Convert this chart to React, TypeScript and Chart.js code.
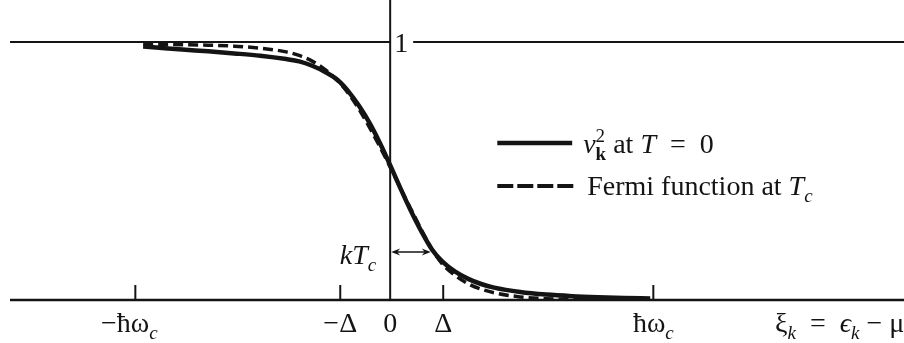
import { useEffect, useRef } from "react";
import { Chart, registerables } from "chart.js";

Chart.register(...registerables);

// ξ measured in units of the gap Δ
const xi = [-4.75, -4.5, -4, -3.5, -3, -2.5, -2, -1.75, -1.5, -1.25, -1, -0.8, -0.6, -0.4, -0.2, 0, 0.2, 0.4, 0.6, 0.8, 1, 1.25, 1.5, 1.75, 2, 2.5, 3, 3.5, 4, 4.5, 5];

// occupation v_k^2 of the BCS ground state (T = 0)
const vk2 = [0.983, 0.979, 0.971, 0.964, 0.956, 0.947, 0.934, 0.925, 0.908, 0.884, 0.851, 0.808, 0.753, 0.688, 0.61, 0.523, 0.432, 0.345, 0.266, 0.197, 0.15, 0.11, 0.082, 0.062, 0.048, 0.031, 0.021, 0.015, 0.011, 0.008, 0.006];

// Fermi function at the critical temperature
const fermi = [0.992, 0.991, 0.99, 0.988, 0.984, 0.976, 0.962, 0.948, 0.926, 0.893, 0.848, 0.8, 0.74, 0.67, 0.595, 0.515, 0.432, 0.352, 0.272, 0.198, 0.14, 0.095, 0.063, 0.042, 0.028, 0.012, 0.005, 0.002, 0.001, 0.001, 0];

// positions of the marked energies on the ξ axis
const tickPositions = [-4.9, -0.96, 0, 1.02, 5.06];

// the kT_c arrow: runs from ξ = 0 to the curve at this height
const kTcLevel = 0.186;
const kTcEnd = 0.78;

const X_MIN = -7.31;
const X_MAX = 9.88;
const Y_MAX = 1.163;

const INK = "#141414";
const SERIF = '"Liberation Serif", "DejaVu Serif", serif';

type Seg = {
  t: string;
  it?: boolean;
  bold?: boolean;
  sub?: boolean;
  sup?: boolean;
  hold?: boolean; // do not advance the pen after this piece
};

const tickLabels: Seg[][] = [
  [{ t: "−ħω" }, { t: "c", it: true, sub: true }],
  [{ t: "−Δ" }],
  [{ t: "0" }],
  [{ t: "Δ" }],
  [{ t: "ħω" }, { t: "c", it: true, sub: true }],
];

const axisTitle: Seg[] = [
  { t: "ξ" },
  { t: "k", it: true, sub: true },
  { t: "  =  " },
  { t: "ϵ", it: true },
  { t: "k", it: true, sub: true },
  { t: " − μ" },
];

const legendSolid: Seg[] = [
  { t: "v", it: true },
  { t: "2", sup: true, hold: true },
  { t: "k", bold: true, sub: true },
  { t: " at " },
  { t: "T", it: true },
  { t: "  =  0" },
];

const legendDashed: Seg[] = [
  { t: "Fermi function at " },
  { t: "T", it: true },
  { t: "c", it: true, sub: true },
];

const kTcLabel: Seg[] = [
  { t: "kT", it: true },
  { t: "c", it: true, sub: true },
];

function fontFor(s: Seg, size: number) {
  const small = s.sub || s.sup;
  const px = small ? Math.round(size * 0.68) : size;
  return `${s.it ? "italic " : ""}${s.bold ? "bold " : ""}${px}px ${SERIF}`;
}

function richWidth(ctx: CanvasRenderingContext2D, segs: Seg[], size: number) {
  let w = 0;
  for (const s of segs) {
    ctx.font = fontFor(s, size);
    if (!s.hold) w += ctx.measureText(s.t).width;
  }
  return w;
}

function drawRich(
  ctx: CanvasRenderingContext2D,
  segs: Seg[],
  x: number,
  baseline: number,
  size: number,
  align: "left" | "center" | "right"
) {
  const w = richWidth(ctx, segs, size);
  let cx = align === "left" ? x : align === "center" ? x - w / 2 : x - w;
  ctx.textAlign = "left";
  ctx.textBaseline = "alphabetic";
  for (const s of segs) {
    ctx.font = fontFor(s, size);
    const dy = s.sub ? size * 0.24 : s.sup ? -size * 0.4 : 0;
    ctx.fillText(s.t, cx, baseline + dy);
    if (!s.hold) cx += ctx.measureText(s.t).width;
  }
}

function seg(ctx: CanvasRenderingContext2D, x1: number, y1: number, x2: number, y2: number) {
  ctx.beginPath();
  ctx.moveTo(x1, y1);
  ctx.lineTo(x2, y2);
  ctx.stroke();
}

function arrowHead(ctx: CanvasRenderingContext2D, tipX: number, y: number, dir: number) {
  ctx.beginPath();
  ctx.moveTo(tipX, y);
  ctx.lineTo(tipX - dir * 9, y - 3.5);
  ctx.lineTo(tipX - dir * 6, y);
  ctx.lineTo(tipX - dir * 9, y + 3.5);
  ctx.closePath();
  ctx.fill();
}

const figureDecor = {
  id: "figureDecor",
  afterDatasetsDraw(chart: Chart) {
    const { ctx, chartArea: a } = chart;
    const xs = chart.scales.x;
    const ys = chart.scales.y;
    const px = (v: number) => xs.getPixelForValue(v);
    const py = (v: number) => ys.getPixelForValue(v);
    const x0 = px(0);
    const y0 = py(0);
    const y1 = py(1);

    ctx.save();
    ctx.strokeStyle = INK;
    ctx.fillStyle = INK;
    ctx.lineCap = "butt";

    // ξ axis
    ctx.lineWidth = 2.5;
    seg(ctx, a.left, y0, a.right, y0);

    // ordinate
    ctx.lineWidth = 2;
    seg(ctx, x0, a.top, x0, y0);

    // level 1, broken around its label
    ctx.lineWidth = 2;
    seg(ctx, a.left, y1, x0, y1);
    seg(ctx, x0 + 23, y1, a.right, y1);
    drawRich(ctx, [{ t: "1" }], x0 + 11, y1 + 10, 28, "center");

    // energy marks and their labels
    ctx.lineWidth = 2;
    tickPositions.forEach((v, i) => {
      const tx = px(v);
      if (v !== 0) seg(ctx, tx, y0, tx, y0 - 15);
      drawRich(ctx, tickLabels[i], tx - (i === 0 ? 6 : 0), y0 + 32, 28, "center");
    });
    drawRich(ctx, axisTitle, px(7.4), y0 + 32, 28, "left");

    // kT_c double arrow
    const ay = py(kTcLevel);
    const ax2 = px(kTcEnd);
    ctx.lineWidth = 1.5;
    seg(ctx, x0 + 4, ay, ax2 - 4, ay);
    arrowHead(ctx, x0 + 1, ay, -1);
    arrowHead(ctx, ax2, ay, 1);
    drawRich(ctx, kTcLabel, x0 - 14, ay + 12, 28, "right");

    // legend
    const lx1 = px(2.06);
    const lx2 = px(3.5);
    const rowA = 143;
    const rowB = 186;
    ctx.lineWidth = 4.5;
    seg(ctx, lx1, rowA, lx2, rowA);
    ctx.setLineDash([16, 4]);
    ctx.lineWidth = 4;
    seg(ctx, lx1, rowB, lx2 + 2, rowB);
    ctx.setLineDash([]);
    drawRich(ctx, legendSolid, lx2 + 11, rowA + 10, 28, "left");
    drawRich(ctx, legendDashed, lx2 + 15, rowB + 9, 28, "left");

    ctx.restore();
  },
};

export default function App() {
  const ref = useRef<HTMLCanvasElement | null>(null);

  useEffect(() => {
    const canvas = ref.current;
    if (!canvas) return;
    const chart = new Chart(canvas, {
      type: "line",
      data: {
        datasets: [
          {
            label: "v_k^2 at T = 0",
            data: xi.map((x, i) => ({ x, y: vk2[i] })),
            borderColor: INK,
            borderWidth: 4.5,
            pointRadius: 0,
            fill: false,
            cubicInterpolationMode: "monotone",
          },
          {
            label: "Fermi function at T_c",
            data: xi.map((x, i) => ({ x, y: fermi[i] })),
            borderColor: INK,
            borderWidth: 3.5,
            borderDash: [10, 5],
            pointRadius: 0,
            fill: false,
            cubicInterpolationMode: "monotone",
          },
        ],
      },
      options: {
        animation: false,
        responsive: false,
        devicePixelRatio: 1,
        layout: { padding: { left: 10, right: 0, top: 0, bottom: 43 } },
        scales: {
          x: { type: "linear", min: X_MIN, max: X_MAX, display: false },
          y: { type: "linear", min: 0, max: Y_MAX, display: false },
        },
        plugins: {
          legend: { display: false },
          tooltip: { enabled: false },
        },
      },
      plugins: [figureDecor],
    });
    return () => chart.destroy();
  }, []);

  return (
    <div
      style={{
        position: "fixed",
        left: 0,
        top: 0,
        width: 904,
        height: 343,
        background: "#ffffff",
      }}
    >
      <canvas ref={ref} width={904} height={343} style={{ display: "block" }} />
    </div>
  );
}
